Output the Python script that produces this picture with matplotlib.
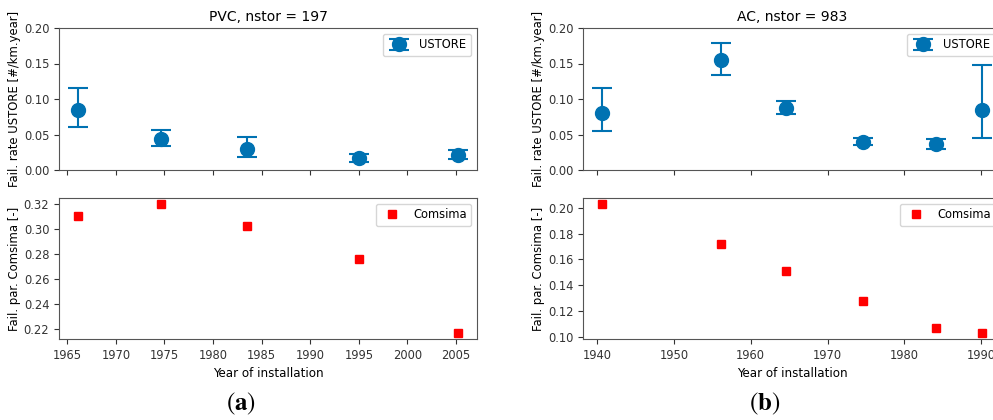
import numpy as np
import matplotlib
matplotlib.use("Agg")
import matplotlib.pyplot as plt

# PVC (a)
pvc_year = [1966.1, 1974.6, 1983.5, 1995.0, 2005.2]
pvc_rate = [0.0847, 0.0437, 0.0296, 0.0165, 0.0216]
pvc_low = [0.060, 0.034, 0.018, 0.0113, 0.016]
pvc_high = [0.116, 0.057, 0.0466, 0.023, 0.028]
pvc_comsima = [0.3106, 0.3197, 0.3024, 0.2762, 0.2168]

# AC (b)
ac_year = [1940.65, 1956.15, 1964.6, 1974.6, 1984.1, 1990.1]
ac_rate = [0.0809, 0.1548, 0.0871, 0.0391, 0.0367, 0.0847]
ac_low = [0.0555, 0.1337, 0.0786, 0.0348, 0.0301, 0.0447]
ac_high = [0.1148, 0.1793, 0.0974, 0.0456, 0.0442, 0.148]
ac_comsima = [0.2026, 0.1721, 0.1512, 0.1279, 0.1067, 0.1034]

titles = ["PVC, nstor = 197", "AC, nstor = 983"]
captions = ["a", "b"]

blue = "#0072B2"
fs = 8.3

plt.rcParams["font.size"] = fs
plt.rcParams["axes.edgecolor"] = "#555555"
plt.rcParams["xtick.color"] = "#333333"
plt.rcParams["ytick.color"] = "#333333"
plt.rcParams["mathtext.fontset"] = "stix"

fig = plt.figure(figsize=(9.93, 4.2), dpi=100)
W, H = 993, 420


def box(x0, y0, x1, y1):
    return [x0 / W, 1 - y1 / H, (x1 - x0) / W, (y1 - y0) / H]


panels = [
    (pvc_year, pvc_rate, pvc_low, pvc_high, pvc_comsima, 59, [0.22, 0.24, 0.26, 0.28, 0.30, 0.32], np.arange(1965, 2006, 5)),
    (ac_year, ac_rate, ac_low, ac_high, ac_comsima, 583, [0.10, 0.12, 0.14, 0.16, 0.18, 0.20], np.arange(1940, 1991, 10)),
]

for i, (yr, rate, lo, hi, com, x0, cticks, xticks) in enumerate(panels):
    ax1 = fig.add_axes(box(x0, 28, x0 + 418, 170))
    ax2 = fig.add_axes(box(x0, 198, x0 + 418, 339), sharex=ax1)

    rate = np.array(rate)
    yerr = [rate - np.array(lo), np.array(hi) - rate]
    ax1.errorbar(yr, rate, yerr=yerr, fmt="o", color=blue, ms=10,
                 capsize=7.5, capthick=1.5, elinewidth=1.5, label="USTORE")
    ax1.set_ylim(0, 0.2)
    ax1.set_yticks([0, 0.05, 0.10, 0.15, 0.20])
    ax1.set_ylabel("Fail. rate USTORE [#/km.year]", fontsize=8.4, labelpad=2)
    ax1.set_title(titles[i], fontsize=10, pad=5)
    ax1.tick_params(labelbottom=False)
    ax1.legend(loc="upper right", fontsize=fs)

    ax2.plot(yr, com, "s", color="red", ms=6, label="Comsima")
    ax2.set_yticks(cticks)
    ax2.set_xticks(xticks)
    ax2.set_ylabel("Fail. par. Comsima [-]", fontsize=8.4, labelpad=2)
    ax2.set_xlabel("Year of installation", fontsize=8.6)
    ax2.legend(loc="upper right", fontsize=fs)

    fig.text((x0 + 182) / W, 1 - 404 / H, r"$(\mathbf{" + captions[i] + "})$",
             fontsize=18, ha="center", va="center")

fig.savefig("out.png", dpi=100)
